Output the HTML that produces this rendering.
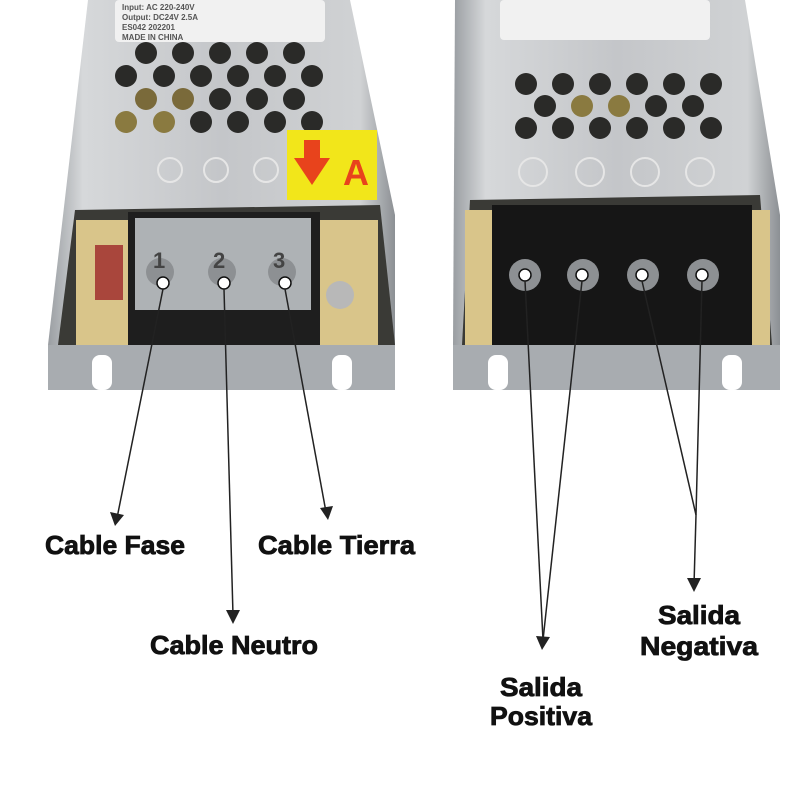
<!DOCTYPE html><html><head><style>body{margin:0;background:#fff}svg{display:block}text{font-family:"Liberation Sans",sans-serif;font-weight:bold}</style></head><body>
<svg width="800" height="800" viewBox="0 0 800 800">
<defs><linearGradient id="al" x1="0" x2="1"><stop offset="0" stop-color="#9a9ea2"/><stop offset=".1" stop-color="#d6d8da"/><stop offset=".5" stop-color="#c4c6c9"/><stop offset=".9" stop-color="#d0d2d4"/><stop offset="1" stop-color="#8c9094"/></linearGradient></defs>
<!-- left device -->
<polygon points="88,0 350,0 395,215 395,390 48,390 48,345" fill="url(#al)"/>
<rect x="115" y="0" width="210" height="42" rx="4" fill="#f1f1f1"/>
<text x="122" y="10" font-size="8" font-weight="normal" fill="#555">Input: AC 220-240V</text>
<text x="122" y="20" font-size="8" font-weight="normal" fill="#555">Output: DC24V 2.5A</text>
<text x="122" y="30" font-size="8" font-weight="normal" fill="#555">ES042 202201</text>
<text x="122" y="40" font-size="8" font-weight="normal" fill="#555">MADE IN CHINA</text>
<g fill="#2a2a28">
<circle cx="146" cy="53" r="11"/><circle cx="183" cy="53" r="11"/><circle cx="220" cy="53" r="11"/><circle cx="257" cy="53" r="11"/><circle cx="294" cy="53" r="11"/>
<circle cx="126" cy="76" r="11"/><circle cx="164" cy="76" r="11"/><circle cx="201" cy="76" r="11"/><circle cx="238" cy="76" r="11"/><circle cx="275" cy="76" r="11"/><circle cx="312" cy="76" r="11"/>
<circle cx="146" cy="99" r="11" fill="#7a6a3a"/><circle cx="183" cy="99" r="11" fill="#7a6a3a"/><circle cx="220" cy="99" r="11"/><circle cx="257" cy="99" r="11"/><circle cx="294" cy="99" r="11"/>
<circle cx="126" cy="122" r="11" fill="#8a7a40"/><circle cx="164" cy="122" r="11" fill="#8a7a40"/><circle cx="201" cy="122" r="11"/><circle cx="238" cy="122" r="11"/><circle cx="275" cy="122" r="11"/><circle cx="312" cy="122" r="11"/></g>
<rect x="287" y="130" width="90" height="70" fill="#f2e61a"/>
<polygon points="304,140 320,140 320,158 330,158 312,185 294,158 304,158" fill="#e8431c"/>
<text x="343" y="185" font-size="36" fill="#e8431c">A</text>
<g fill="none" stroke="#e6e6e6" stroke-width="2"><circle cx="170" cy="170" r="12"/><circle cx="216" cy="170" r="12"/><circle cx="266" cy="170" r="12"/></g>
<polygon points="58,345 75,210 380,205 395,345" fill="#3a3a36"/>
<rect x="76" y="220" width="302" height="125" fill="#d9c58a"/>
<rect x="95" y="245" width="28" height="55" fill="#a9463c"/>
<circle cx="340" cy="295" r="14" fill="#b8b8b8"/>
<rect x="128" y="212" width="192" height="135" fill="#1e1e1e"/>
<rect x="135" y="218" width="176" height="92" fill="#c8ccd0" opacity=".85"/>
<g fill="#8d9093"><circle cx="160" cy="272" r="14"/><circle cx="222" cy="272" r="14"/><circle cx="282" cy="272" r="14"/></g>
<text x="153" y="268" font-size="22" font-weight="normal" fill="#444">1</text><text x="213" y="268" font-size="22" font-weight="normal" fill="#444">2</text><text x="273" y="268" font-size="22" font-weight="normal" fill="#444">3</text>
<rect x="48" y="345" width="347" height="45" fill="#a8acb0"/>
<rect x="92" y="355" width="20" height="35" rx="8" fill="#fff"/><rect x="332" y="355" width="20" height="35" rx="8" fill="#fff"/>
<!-- right device -->
<polygon points="455,0 745,0 780,215 780,390 453,390 453,345" fill="url(#al)"/>
<rect x="500" y="0" width="210" height="40" rx="4" fill="#f1f1f1"/>
<g fill="#2a2a28">
<circle cx="526" cy="84" r="11"/><circle cx="563" cy="84" r="11"/><circle cx="600" cy="84" r="11"/><circle cx="637" cy="84" r="11"/><circle cx="674" cy="84" r="11"/><circle cx="711" cy="84" r="11"/>
<circle cx="545" cy="106" r="11"/><circle cx="582" cy="106" r="11" fill="#8a7a40"/><circle cx="619" cy="106" r="11" fill="#8a7a40"/><circle cx="656" cy="106" r="11"/><circle cx="693" cy="106" r="11"/>
<circle cx="526" cy="128" r="11"/><circle cx="563" cy="128" r="11"/><circle cx="600" cy="128" r="11"/><circle cx="637" cy="128" r="11"/><circle cx="674" cy="128" r="11"/><circle cx="711" cy="128" r="11"/></g>
<g fill="none" stroke="#e6e6e6" stroke-width="2"><circle cx="533" cy="172" r="14"/><circle cx="590" cy="172" r="14"/><circle cx="645" cy="172" r="14"/><circle cx="700" cy="172" r="14"/></g>
<polygon points="462,345 470,200 760,195 772,345" fill="#3a3a36"/>
<rect x="465" y="210" width="305" height="135" fill="#d9c58a"/>
<rect x="492" y="205" width="260" height="142" fill="#161616"/>
<g fill="#8d9093"><circle cx="525" cy="275" r="16"/><circle cx="583" cy="275" r="16"/><circle cx="643" cy="275" r="16"/><circle cx="703" cy="275" r="16"/></g>
<rect x="453" y="345" width="327" height="45" fill="#a8acb0"/>
<rect x="488" y="355" width="20" height="35" rx="8" fill="#fff"/><rect x="722" y="355" width="20" height="35" rx="8" fill="#fff"/>
<!-- dots -->
<g fill="#fff" stroke="#111" stroke-width="1.5"><circle cx="163" cy="283" r="6"/><circle cx="224" cy="283" r="6"/><circle cx="285" cy="283" r="6"/><circle cx="525" cy="275" r="6"/><circle cx="582" cy="275" r="6"/><circle cx="642" cy="275" r="6"/><circle cx="702" cy="275" r="6"/></g>
<g stroke="#222" stroke-width="1.5" fill="none">
<line x1="163" y1="289" x2="117" y2="518"/><line x1="224" y1="289" x2="233" y2="615"/><line x1="285" y1="289" x2="326" y2="512"/>
<line x1="525" y1="281" x2="543" y2="640"/><line x1="582" y1="281" x2="543" y2="640"/>
<line x1="642" y1="281" x2="696" y2="515"/><line x1="702" y1="281" x2="696" y2="515"/><line x1="696" y1="515" x2="694" y2="585"/></g>
<g fill="#222"><polygon points="110,512 124,515 115,526"/><polygon points="226,610 240,610 233,624"/><polygon points="320,508 333,506 328,520"/><polygon points="536,636 550,637 542,650"/><polygon points="687,578 701,578 694,592"/></g>
<g font-size="26" fill="#111" stroke="#111" stroke-width="0.8" lengthAdjust="spacingAndGlyphs">
<text x="45" y="554" textLength="140" lengthAdjust="spacingAndGlyphs">Cable Fase</text><text x="258" y="554" textLength="157" lengthAdjust="spacingAndGlyphs">Cable Tierra</text><text x="150" y="654" textLength="168" lengthAdjust="spacingAndGlyphs">Cable Neutro</text>
<text x="500" y="696" textLength="82" lengthAdjust="spacingAndGlyphs">Salida</text><text x="490" y="725" textLength="102" lengthAdjust="spacingAndGlyphs">Positiva</text>
<text x="658" y="624" textLength="82" lengthAdjust="spacingAndGlyphs">Salida</text><text x="640" y="655" textLength="118" lengthAdjust="spacingAndGlyphs">Negativa</text></g>
</svg></body></html>
